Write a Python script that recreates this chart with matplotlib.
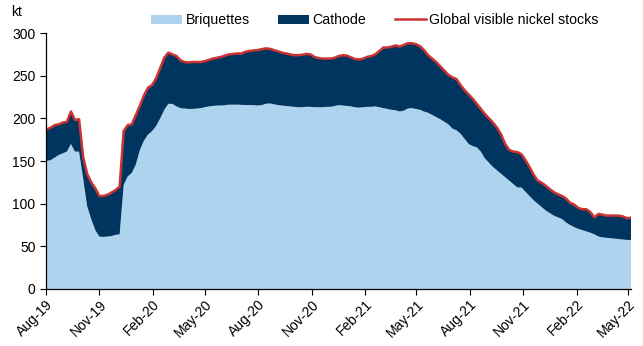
import matplotlib
matplotlib.use("Agg")
import matplotlib.pyplot as plt
import matplotlib.dates as mdates
import numpy as np
import pandas as pd

plt.rcParams['font.family'] = ['Liberation Sans', 'DejaVu Sans']

# Weekly observations, kt
dates = pd.date_range("2019-08-02", periods=145, freq="7D")

global_stocks = [
    187, 189, 192, 193, 195, 196, 208, 198, 199, 155,
    135, 125, 118, 109, 109, 110.5, 113, 116, 120, 185,
    192, 193, 204, 215, 227, 236, 239, 247, 259, 271,
    277, 275, 273, 268, 266, 265.5, 266, 266, 266, 267,
    268.5, 270, 271, 272, 273.5, 275, 275.5, 276, 276, 278,
    279, 279.5, 280, 281, 282, 281.5, 280, 278.5, 277, 276,
    275, 274, 274, 274.5, 275.5, 275, 272, 270.5, 270, 270,
    270, 271, 273, 274, 273.5, 271.5, 269.5, 269, 270, 272,
    273, 275, 279, 283, 283, 284, 285.5, 284, 286, 288,
    288, 287, 284.5, 280, 274, 270, 266, 261, 256, 251,
    248, 246, 239, 233, 228, 223, 217, 211, 205, 200,
    195, 189, 181, 170, 163, 161, 160.5, 158, 151, 143,
    134, 127, 124.5, 121, 117, 113.5, 111, 109, 106, 101,
    99, 95, 93.5, 93.5, 90, 84, 88, 87, 86, 86,
    86, 86, 85, 83, 83.5,
]

briquettes = [
    150, 151, 154, 157, 159, 161, 170, 161, 161, 130,
    97, 82, 69, 61.5, 61, 61.5, 62, 63.5, 64, 122,
    132, 136, 146, 163, 174, 181, 185, 191, 200, 210,
    217, 217, 214, 212, 211.5, 211, 211, 211.5, 212, 213,
    214, 214.5, 215, 215, 215.5, 216, 216, 216, 215.8, 215.6,
    215.6, 215.5, 215, 215.5, 217, 217.5, 216.5, 215.5, 215, 214.5,
    214, 213.5, 213, 213, 213.5, 213.5, 213, 213, 213, 213.5,
    213.5, 214.5, 215.5, 215, 214.5, 214, 213, 212.5, 213, 213.5,
    213.5, 214, 213, 212, 211, 210, 209.5, 208, 209, 211.5,
    212, 211, 210, 208, 206.5, 204, 201.5, 199, 196, 193,
    188, 186, 182, 176, 170, 167.5, 166, 161, 153, 148,
    143, 139, 135, 131, 127, 123, 119, 119, 114, 109,
    104, 100, 96, 92, 89, 86, 84, 82, 78, 75,
    72.5, 70.5, 69, 67.5, 66, 64, 61.5, 60.5, 60, 59.5,
    59, 58.5, 58, 57.5, 57.5,
]

series_labels = ["Briquettes", "Cathode", "Global visible nickel stocks"]
y_ticks = [0, 50, 100, 150, 200, 250, 300]

total = np.array(global_stocks)
briq = np.array(briquettes)
cathode = total - briq

c_briq = "#AED3EF"
c_cath = "#00355F"
c_line = "#CC3333"

fig = plt.figure(figsize=(6.43, 3.46), dpi=100)
ax = fig.add_axes([46 / 643, 1 - 289 / 346, 585 / 643, 256 / 346])

ax.stackplot(dates, briq, cathode, colors=[c_briq, c_cath],
             labels=series_labels[:2], linewidth=0)
ax.plot(dates, total, color=c_line, lw=1.8, label=series_labels[2])

ax.set_xlim(pd.Timestamp("2019-08-01"), dates[-1])
ax.set_ylim(0, 300)
ax.set_yticks(y_ticks)

ax.xaxis.set_major_locator(mdates.MonthLocator(bymonth=[2, 5, 8, 11]))
ax.xaxis.set_major_formatter(mdates.DateFormatter("%b-%y"))
for lbl in ax.get_xticklabels():
    lbl.set_rotation(45)
    lbl.set_ha("right")
    lbl.set_rotation_mode("anchor")

ax.tick_params(axis="both", labelsize=10, color="black", length=4,
               width=0.8, direction="out")
ax.tick_params(axis="x", pad=2)
for side in ("top", "right"):
    ax.spines[side].set_visible(False)
for side in ("left", "bottom"):
    ax.spines[side].set_color("black")
    ax.spines[side].set_linewidth(0.9)

fig.text(11 / 643, 1 - 12 / 346, "kt", fontsize=10, va="center", ha="left")

leg = ax.legend(loc="center", bbox_to_anchor=(0.562, 1 + 13 / 256), ncol=3,
                frameon=False, fontsize=10.2, handlelength=2.2,
                handleheight=0.6, columnspacing=2.0, handletextpad=0.25,
                borderaxespad=0, borderpad=0)

fig.savefig("out.png", dpi=100)
